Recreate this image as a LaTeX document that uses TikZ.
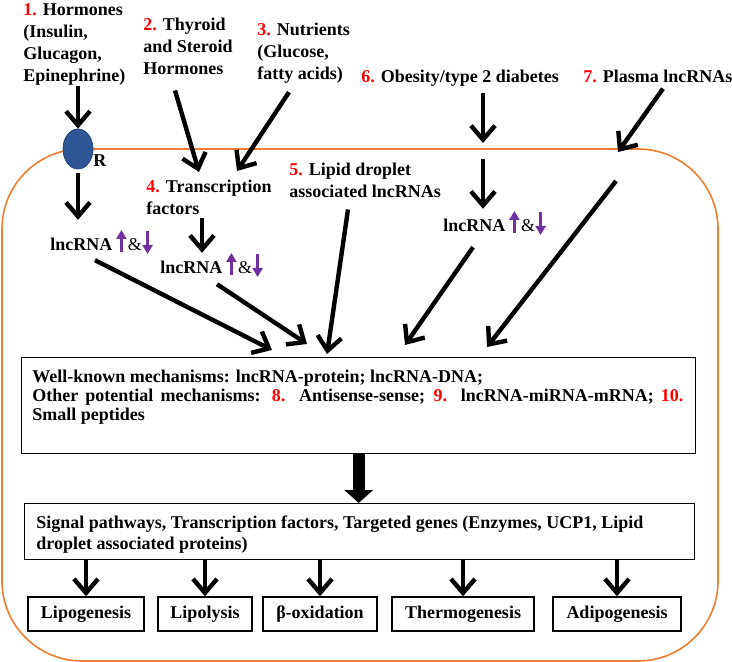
\documentclass[tikz,border=0pt]{standalone}
\usepackage{fontspec}
\setmainfont{Liberation Serif}
\usepackage{tikz}
\usetikzlibrary{positioning,
				arrows.meta,
				shapes.geometric,
				calc}
\definecolor{numred}{HTML}{FF0000}
\definecolor{cellorange}{HTML}{ED7D31}
\definecolor{updnpurple}{HTML}{7030A0}
\definecolor{recblue}{HTML}{2F5597}
\newcommand{\rn}[1]{\textcolor{numred}{#1}}
\newcommand{\lncud}{\hspace{2pt}\tikz[baseline=0pt]\draw[updnpurple,line width=1.8pt,-{Triangle[length=4.5pt,width=5pt]}] (0pt,-0.5pt) -- (0pt,10.5pt);\hspace{0.8pt}{\mdseries\&}\hspace{0.3pt}\tikz[baseline=0pt]\draw[updnpurple,line width=1.8pt,-{Triangle[length=4.5pt,width=5pt]}] (0pt,10pt) -- (0pt,-1.5pt);}

\begin{document}
\begin{tikzpicture}[x=0.5pt,y=-0.5pt,
		font=\fontsize{9pt}{11pt}\selectfont\bfseries,
		txt/.style={inner sep=0pt,align=left},
		arr/.style={line width=2.2pt,-{Straight Barb[length=7pt,width=12pt]}},
		bigarr/.style={line width=6pt,-{Triangle[length=6.5pt,width=14pt]}},
		box/.style={draw,line width=0.7pt,inner sep=0pt},
		outbox/.style={box,minimum height=17pt,anchor=center}]
		\useasboundingbox (0,0) rectangle (732,662);
		\draw[cellorange,line width=0.8pt,rounded corners=40pt] (2,149) rectangle (718,661);
		\node[txt,anchor=north west] (src1) at (23,3) {\rn{1.} Hormones\\(Insulin,\\Glucagon,\\Epinephrine)};
		\node[txt,anchor=north west] (src2) at (143,18) {\rn{2.} Thyroid\\and Steroid\\Hormones};
		\node[txt,anchor=north west] (src3) at (257,23) {\rn{3.} Nutrients\\(Glucose,\\fatty acids)};
		\node[txt,anchor=base west] (src6) at (361,83) {\rn{6.} Obesity/type 2 diabetes};
		\node[txt,anchor=base west] (src7) at (583,83) {\rn{7.} Plasma lncRNAs};
		\node[ellipse,fill=recblue,draw=recblue!80!black,minimum width=15pt,minimum height=20pt,inner sep=0pt] (rec) at (78,149) {};
		\node[txt,anchor=base west] (rlab) at (93,167) {R};
		\node[txt,anchor=north west] (tf) at (146,180) {\rn{4.} Transcription\\factors};
		\node[txt,anchor=north west] (ld) at (289,163) {\rn{5.} Lipid droplet\\associated lncRNAs};
		\node[txt,anchor=base west] (lnc1) at (50,251) {lncRNA\lncud};
		\node[txt,anchor=base west] (lnc2) at (160,274) {lncRNA\lncud};
		\node[txt,anchor=base west] (lnc3) at (443,232) {lncRNA\lncud};
		\node[box,anchor=north west,minimum width=337pt,minimum height=48pt] (mech) at (21,357) {};
		\node[txt,anchor=north west,font=\fontsize{9pt}{10pt}\selectfont\bfseries] (mechtxt) at ($(mech.north west)+(11,13)$) {Well-known mechanisms: lncRNA-protein; lncRNA-DNA;\\[-0.6pt]\makebox[325.5pt][s]{Other potential mechanisms: \rn{8.} Antisense-sense; \rn{9.} lncRNA-miRNA-mRNA; \rn{10.}}\\[-0.6pt]Small peptides};
		\node[box,anchor=north west,minimum width=335pt,minimum height=28pt] (sig) at (24,503) {};
		\node[txt,anchor=north west,font=\fontsize{9pt}{10.5pt}\selectfont\bfseries] (sigtxt) at ($(sig.north west)+(12,12)$) {Signal pathways, Transcription factors, Targeted genes (Enzymes, UCP1, Lipid\\droplet associated proteins)};
		\node[outbox,minimum width=58pt] (lipo) at (86,614) {Lipogenesis};
		\node[outbox,minimum width=47pt] (lipol) at (205,614) {Lipolysis};
		\node[outbox,minimum width=57pt] (boxid) at (320,614) {β-oxidation};
		\node[outbox,minimum width=71pt] (thermo) at (463,614) {Thermogenesis};
		\node[outbox,minimum width=64pt] (adipo) at (617,614) {Adipogenesis};
		\coordinate (m6) at (483,149);
		\coordinate (m7) at (618,152);
		\coordinate (m7in) at (616,181);
		\draw[arr] (rec.north |- src1.south) -- (rec.north);
		\draw[arr,shorten <=2pt,shorten >=4pt] (rec.south) -- (rec.south |- lnc1.north);
		\draw[arr] ($(src2.south west)+(32,15)$) -- ($(tf.north west)+(53,-8)$);
		\draw[arr] ($(src3.south west)+(32,8)$) -- ($(tf.north west)+(91,-9)$);
		\draw[arr] ($(tf.south west)+(56,3)$) -- ($(lnc2.north west)+(42,2)$);
		\draw[arr] ($(lnc1.south west)+(45,4)$) -- ($(mech.north west)+(251,-7)$);
		\draw[arr] ($(lnc2.south west)+(57,5)$) -- ($(mech.north west)+(286,-13)$);
		\draw[arr] ($(ld.south west)+(59,11)$) -- ($(mech.north west)+(306,-3)$);
		\draw[arr,shorten <=3pt,shorten >=3pt] (m6 |- src6.south) -- (m6);
		\draw[arr,shorten <=5pt] (m6) -- (m6 |- lnc3.north);
		\draw[arr] ($(lnc3.south west)+(30,10)$) -- ($(mech.north west)+(384,-12)$);
		\draw[arr] ($(src7.south west)+(80,5)$) -- (m7);
		\draw[arr] (m7in) -- ($(mech.north west)+(466,-10)$);
		\draw[bigarr] (mech.south) -- (mech.south |- sig.north);
		\foreach \out in {lipo,lipol,boxid,thermo,adipo}
			\draw[arr] (sig.south -| \out.north) -- (\out.north);
\end{tikzpicture}
\end{document}
